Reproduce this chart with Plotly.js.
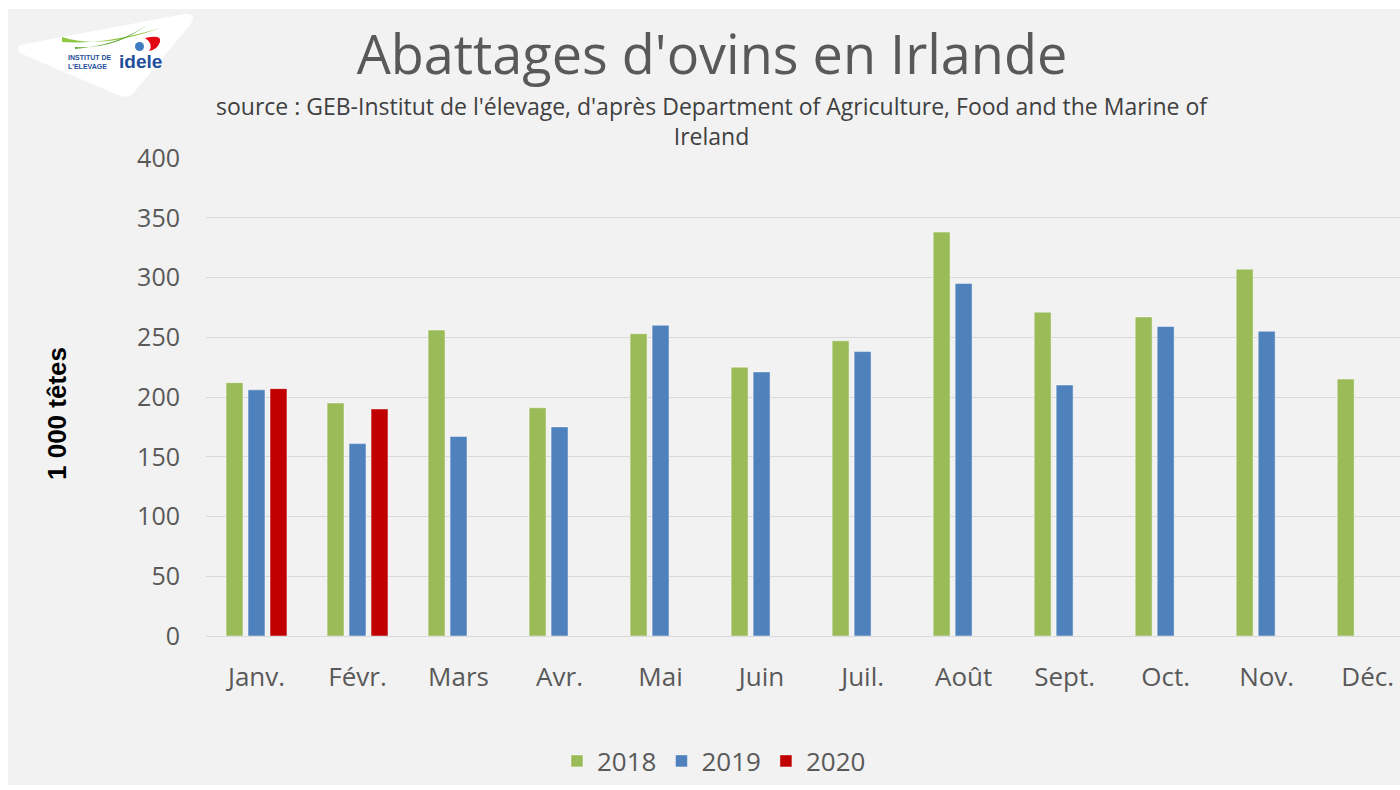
<!DOCTYPE html>
<html>
<head>
<meta charset="utf-8">
<script src="https://cdn.plot.ly/plotly-3.0.1.min.js"></script>
<style>
html,body{margin:0;padding:0;background:#ffffff;overflow:hidden;width:1400px;height:790px;}
#chart{position:absolute;left:8px;top:9px;width:1392px;height:776px;}
</style>
</head>
<body>
<div id="chart"></div>
<script>
const months = ["Janv.","Févr.","Mars","Avr.","Mai","Juin","Juil.","Août","Sept.","Oct.","Nov.","Déc."];
const values2018 = [212, 195, 256, 191, 253, 225, 247, 338, 271, 267, 307, 215];
const values2019 = [206, 161, 167, 175, 260, 221, 238, 295, 210, 259, 255, null];
const values2020 = [207, 190, null, null, null, null, null, null, null, null, null, null];
const yTicks = [0, 50, 100, 150, 200, 250, 300, 350, 400];

const FONT = '"Open Sans", "Noto Sans", sans-serif';
const GREY = '#595959';

// page pixel -> paper coords (div offset 8,9; plot area l=198, t=149, w=1194, h=478)
const px = x => (x - 8 - 198) / 1194;
const py = y => (627 - (y - 9)) / 478;

function bar(name, vals, color) {
  return {
    type: 'bar', name: name, x: months, y: vals,
    marker: {color: color, line: {color: 'rgba(255,255,255,0.45)', width: 1}},
    hoverinfo: 'x+y+name'
  };
}

const data = [
  bar('2018', values2018, '#9BBB59'),
  bar('2019', values2019, '#4F81BD'),
  bar('2020', values2020, '#C00000')
];

const logoPath = `M ${px(20)} ${py(45)} Q ${px(14)} ${py(50)} ${px(22)} ${py(54)} L ${px(118)} ${py(95)} Q ${px(130)} ${py(100)} ${px(136)} ${py(90)} L ${px(190)} ${py(25)} Q ${px(198)} ${py(13)} ${px(184)} ${py(14)} Z`;

const layout = {
  width: 1392, height: 776,
  paper_bgcolor: '#f2f2f2', plot_bgcolor: '#f2f2f2',
  margin: {l: 198, r: 0, t: 149, b: 149, pad: 0},
  barmode: 'group', bargap: 0.347, bargroupgap: 0.23,
  showlegend: true,
  title: {
    text: "Abattages d'ovins en Irlande",
    font: {family: FONT, size: 54, color: GREY},
    xref: 'container', yref: 'container',
    x: (712 - 8) / 1392, xanchor: 'center',
    y: 1 - (55 - 9) / 776, yanchor: 'middle'
  },
  xaxis: {
    type: 'category', range: [-0.5, 11.32],
    showgrid: false, zeroline: false, showline: false,
    ticks: 'outside', ticklen: 18, tickcolor: 'rgba(0,0,0,0)',
    tickfont: {family: FONT, size: 26, color: GREY},
    fixedrange: true
  },
  yaxis: {
    range: [0, 400], tickvals: yTicks,
    showgrid: true, gridcolor: '#d9d9d9', gridwidth: 1,
    zeroline: true, zerolinecolor: '#d9d9d9', zerolinewidth: 1,
    showline: false,
    ticks: 'outside', ticklen: 20, tickcolor: 'rgba(0,0,0,0)',
    tickfont: {family: FONT, size: 25, color: GREY},
    fixedrange: true
  },
  legend: {
    orientation: 'h', xref: 'paper', yref: 'paper',
    x: px(714), xanchor: 'center', y: py(761), yanchor: 'middle',
    font: {family: FONT, size: 26, color: GREY},
    bgcolor: 'rgba(0,0,0,0)', itemwidth: 30, traceorder: 'normal'
  },
  annotations: [
    {text: "source : GEB-Institut de l'élevage, d'après Department of Agriculture, Food and the Marine of<br>Ireland",
     xref: 'paper', yref: 'paper', x: px(712), y: py(121), xanchor: 'center', yanchor: 'middle',
     align: 'center', showarrow: false, font: {family: FONT, size: 23, color: '#404040'}},
    {text: "<b>1 000 têtes</b>", textangle: -90,
     xref: 'paper', yref: 'paper', x: px(57), y: py(414), xanchor: 'center', yanchor: 'middle',
     showarrow: false, font: {family: '"Liberation Sans", Arial, sans-serif', size: 26, color: '#000000'}},
    {text: "<b>INSTITUT DE<br>L'ELEVAGE</b>",
     xref: 'paper', yref: 'paper', x: px(89), y: py(62), xanchor: 'center', yanchor: 'middle',
     showarrow: false, align: 'left', font: {family: '"Liberation Sans", Arial, sans-serif', size: 7, color: '#1F4E9C'}},
    {text: "<b>idele</b>",
     xref: 'paper', yref: 'paper', x: px(140), y: py(62), xanchor: 'center', yanchor: 'middle',
     showarrow: false, font: {family: '"Liberation Sans", Arial, sans-serif', size: 19, color: '#1F4E9C'}}
  ],
  shapes: [
    {type: 'path', xref: 'paper', yref: 'paper', path: logoPath,
     fillcolor: '#ffffff', line: {width: 0}, layer: 'above'},
    {type: 'path', xref: 'paper', yref: 'paper',
     path: `M ${px(62)} ${py(37)} Q ${px(100)} ${py(50)} ${px(160)} ${py(28)} Q ${px(105)} ${py(45)} ${px(62)} ${py(42)} Z`,
     fillcolor: '#8DC63F', line: {width: 0}, layer: 'above'},
    {type: 'path', xref: 'paper', yref: 'paper',
     path: `M ${px(75)} ${py(47)} Q ${px(115)} ${py(50)} ${px(148)} ${py(24)} Q ${px(120)} ${py(45)} ${px(75)} ${py(49)} Z`,
     fillcolor: '#5BA531', line: {width: 0}, layer: 'above'},
    {type: 'path', xref: 'paper', yref: 'paper',
     path: `M ${px(145)} ${py(38)} Q ${px(162)} ${py(34)} ${px(160)} ${py(42)} Q ${px(157)} ${py(50)} ${px(149)} ${py(51)} Q ${px(154)} ${py(44)} ${px(145)} ${py(38)} Z`,
     fillcolor: '#E30613', line: {width: 0}, layer: 'above'},
    {type: 'circle', xref: 'paper', yref: 'paper',
     x0: px(135), x1: px(144), y0: py(51), y1: py(42),
     fillcolor: '#3E7CC4', line: {width: 0}, layer: 'above'}
  ]
};

Plotly.newPlot('chart', data, layout, {displayModeBar: false, staticPlot: true});
</script>
</body>
</html>
